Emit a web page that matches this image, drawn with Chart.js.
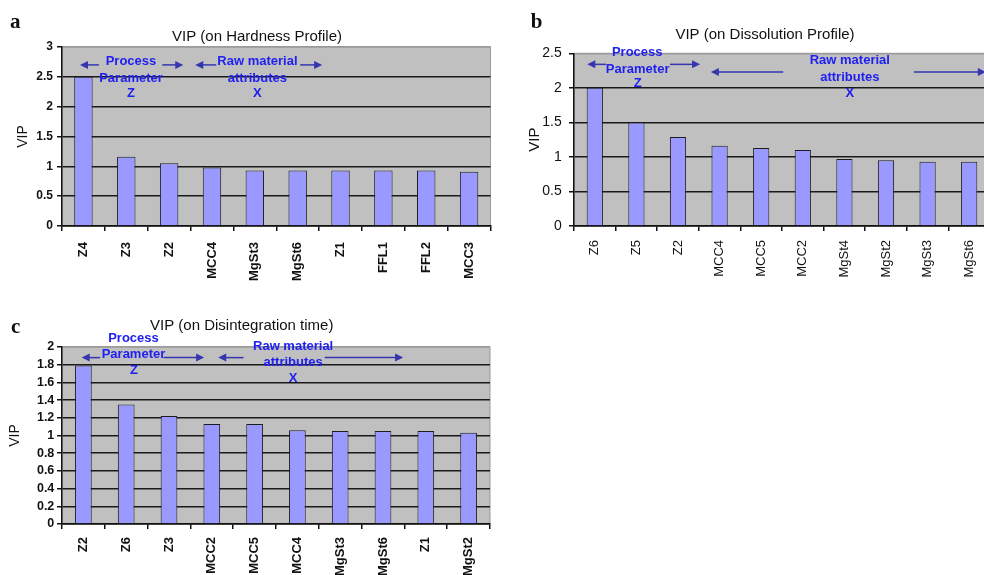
<!DOCTYPE html>
<html lang="en">
<head>
<meta charset="UTF-8">
<title>VIP charts</title>
<script src="https://cdn.jsdelivr.net/npm/chart.js"></script>
<style>
    html, body {
        margin: 0;
        padding: 0;
        background: #fff;
        width: 984px;
        height: 575px;
        overflow: hidden;
    }
    canvas {
        position: absolute;
    }
</style>
</head>
<body>
<canvas id="chartA" style="left:0;top:0" width="500" height="300"></canvas>
<canvas id="chartB" style="left:490px;top:0" width="510" height="300"></canvas>
<canvas id="chartC" style="left:0;top:300px" width="500" height="275"></canvas>
<script>
// Данные (значения VIP)
const labelsA = ['Z4', 'Z3', 'Z2', 'MCC4', 'MgSt3', 'MgSt6', 'Z1', 'FFL1', 'FFL2', 'MCC3'];
const vipA = [2.5, 1.16, 1.05, 0.98, 0.93, 0.93, 0.93, 0.93, 0.93, 0.91];
const ticksA = [0, 0.5, 1, 1.5, 2, 2.5, 3];

const labelsB = ['Z6', 'Z5', 'Z2', 'MCC4', 'MCC5', 'MCC2', 'MgSt4', 'MgSt2', 'MgSt3', 'MgSt6'];
const vipB = [2.0, 1.5, 1.29, 1.16, 1.13, 1.1, 0.97, 0.95, 0.93, 0.93];
const ticksB = [0, 0.5, 1, 1.5, 2, 2.5];

const labelsC = ['Z2', 'Z6', 'Z3', 'MCC2', 'MCC5', 'MCC4', 'MgSt3', 'MgSt6', 'Z1', 'MgSt2'];
const vipC = [1.79, 1.35, 1.22, 1.13, 1.13, 1.06, 1.05, 1.05, 1.05, 1.03];
const ticksC = [0, 0.2, 0.4, 0.6, 0.8, 1, 1.2, 1.4, 1.6, 1.8, 2];

Chart.defaults.font.family = "'Liberation Sans', Arial, sans-serif";
Chart.defaults.color = '#111';

// Плагин: серый фон, заголовок, буква панели и синие подписи со стрелками
const vipDecor = {
    id: 'vipDecor',
    beforeDraw(chart) {
        const a = chart.chartArea;
        const ctx = chart.ctx;
        ctx.save();
        ctx.fillStyle = '#c0c0c0';
        ctx.fillRect(a.left, a.top, a.right - a.left, a.bottom - a.top);
        ctx.strokeStyle = '#9a9a9a';
        ctx.lineWidth = 1;
        ctx.strokeRect(a.left, a.top, a.right - a.left, a.bottom - a.top);
        ctx.restore();
    },
    afterDraw(chart, args, opts) {
        const ctx = chart.ctx;
        const x = chart.scales.x;
        const y = chart.scales.y;
        ctx.save();

        // буква панели
        ctx.fillStyle = '#111';
        ctx.font = "bold 21px 'Liberation Serif', serif";
        ctx.textAlign = 'left';
        ctx.textBaseline = 'alphabetic';
        ctx.fillText(opts.letter.t, opts.letter.x, opts.letter.y);

        // заголовок
        ctx.font = "15px 'Liberation Sans', Arial, sans-serif";
        ctx.textAlign = 'center';
        ctx.textBaseline = 'middle';
        ctx.fillText(opts.title.t, opts.title.x, opts.title.y);

        // стрелки
        ctx.strokeStyle = '#3535b0';
        ctx.fillStyle = '#3535b0';
        ctx.lineWidth = 1.5;
        opts.arrows.forEach(([from, to, v]) => {
            const x1 = x.getPixelForValue(from);
            const x2 = x.getPixelForValue(to);
            const yy = y.getPixelForValue(v);
            const dir = x2 > x1 ? 1 : -1;
            ctx.beginPath();
            ctx.moveTo(x1, yy);
            ctx.lineTo(x2 - dir * 6, yy);
            ctx.stroke();
            ctx.beginPath();
            ctx.moveTo(x2, yy);
            ctx.lineTo(x2 - dir * 8, yy - 4);
            ctx.lineTo(x2 - dir * 8, yy + 4);
            ctx.closePath();
            ctx.fill();
        });

        // синие подписи
        ctx.fillStyle = '#2020f0';
        ctx.font = "bold 13px 'Liberation Sans', Arial, sans-serif";
        opts.notes.forEach(([t, i, v]) => {
            ctx.fillText(t, x.getPixelForValue(i), y.getPixelForValue(v));
        });
        ctx.restore();
    }
};

function makeChart(id, labels, values, yTicks, cfg) {
    const yMax = yTicks[yTicks.length - 1];
    return new Chart(document.getElementById(id), {
        type: 'bar',
        data: {
            labels: labels,
            datasets: [{
                data: values,
                backgroundColor: '#9999ff',
                borderColor: '#1c1c1c',
                borderWidth: 1,
                barPercentage: cfg.bar,
                categoryPercentage: 1
            }]
        },
        options: {
            responsive: false,
            animation: false,
            layout: { padding: { top: cfg.top, right: cfg.right, left: 0, bottom: 0 } },
            plugins: {
                legend: { display: false },
                tooltip: { enabled: false },
                vipDecor: cfg.decor
            },
            scales: {
                x: {
                    grid: { offset: true, drawOnChartArea: false, color: '#111', tickLength: 5, lineWidth: 1.5 },
                    border: { color: '#111', width: 1.5 },
                    ticks: {
                        autoSkip: false,
                        minRotation: 90,
                        maxRotation: 90,
                        padding: cfg.xPad,
                        color: '#111',
                        font: cfg.xFont
                    },
                    afterFit(s) { s.height = cfg.xHeight; }
                },
                y: {
                    min: yTicks[0],
                    max: yMax,
                    afterBuildTicks(s) { s.ticks = yTicks.map(v => ({ value: v })); },
                    grid: {
                        color: c => (c.tick && c.tick.value === yMax ? '#9a9a9a' : '#1a1a1a'),
                        tickColor: '#111',
                        tickLength: 5,
                        lineWidth: 1.5
                    },
                    border: { color: '#111', width: 1.5 },
                    ticks: {
                        autoSkip: false,
                        padding: cfg.yPad,
                        color: '#111',
                        font: cfg.yFont,
                        callback: v => String(v)
                    },
                    title: {
                        display: true,
                        text: 'VIP',
                        color: '#111',
                        font: cfg.vipFont,
                        padding: { top: cfg.vipPad, bottom: 0 }
                    },
                    afterFit(s) { s.width = cfg.yWidth; }
                }
            }
        },
        plugins: [vipDecor]
    });
}

makeChart('chartA', labelsA, vipA, ticksA, {
    top: 47, right: 9.5, yWidth: 62, xHeight: 74, xPad: 11, yPad: 4, bar: 0.43,
    yFont: { size: 12, weight: 'bold' },
    xFont: { size: 13, weight: 'bold' },
    vipFont: { size: 14 }, vipPad: 14.6,
    decor: {
        letter: { t: 'a', x: 10, y: 28 },
        title: { t: 'VIP (on Hardness Profile)', x: 257, y: 37 },
        notes: [
            ['Process', 1.11, 2.75], ['Parameter', 1.11, 2.47], ['Z', 1.11, 2.22],
            ['Raw material', 4.06, 2.75], ['attributes', 4.06, 2.47], ['X', 4.06, 2.22]
        ],
        arrows: [[0.36, -0.08, 2.70], [1.84, 2.33, 2.70], [3.10, 2.61, 2.70], [5.06, 5.57, 2.70]]
    }
});

makeChart('chartB', labelsB, vipB, ticksB, {
    top: 53.3, right: 10, yWidth: 84, xHeight: 74, xPad: 9, yPad: 7.3, bar: 0.39,
    yFont: { size: 14 },
    xFont: { size: 13 },
    vipFont: { size: 15 }, vipPad: 36,
    decor: {
        letter: { t: 'b', x: 40.7, y: 28.3 },
        title: { t: 'VIP (on Dissolution Profile)', x: 275, y: 35 },
        notes: [
            ['Process', 1.02, 2.51], ['Parameter', 1.03, 2.27], ['Z', 1.03, 2.07],
            ['Raw material', 6.13, 2.39], ['attributes', 6.13, 2.15], ['X', 6.13, 1.92]
        ],
        arrows: [[0.27, -0.18, 2.34], [1.81, 2.53, 2.34], [4.53, 2.79, 2.23], [7.67, 9.40, 2.23]]
    }
});

makeChart('chartC', labelsC, vipC, ticksC, {
    top: 47, right: 10, yWidth: 62, xHeight: 51, xPad: 8, yPad: 2.7, bar: 0.39,
    yFont: { size: 12.5, weight: 'bold' },
    xFont: { size: 13, weight: 'bold' },
    vipFont: { size: 14 }, vipPad: 6.6,
    decor: {
        letter: { t: 'c', x: 11, y: 33.3 },
        title: { t: 'VIP (on Disintegration time)', x: 241.7, y: 26 },
        notes: [
            ['Process', 1.17, 2.10], ['Parameter', 1.17, 1.92], ['Z', 1.18, 1.74],
            ['Raw material', 4.90, 2.01], ['attributes', 4.90, 1.83], ['X', 4.90, 1.65]
        ],
        arrows: [[0.39, -0.04, 1.88], [1.87, 2.82, 1.88], [3.74, 3.15, 1.88], [5.64, 7.47, 1.88]]
    }
});
</script>
</body>
</html>
